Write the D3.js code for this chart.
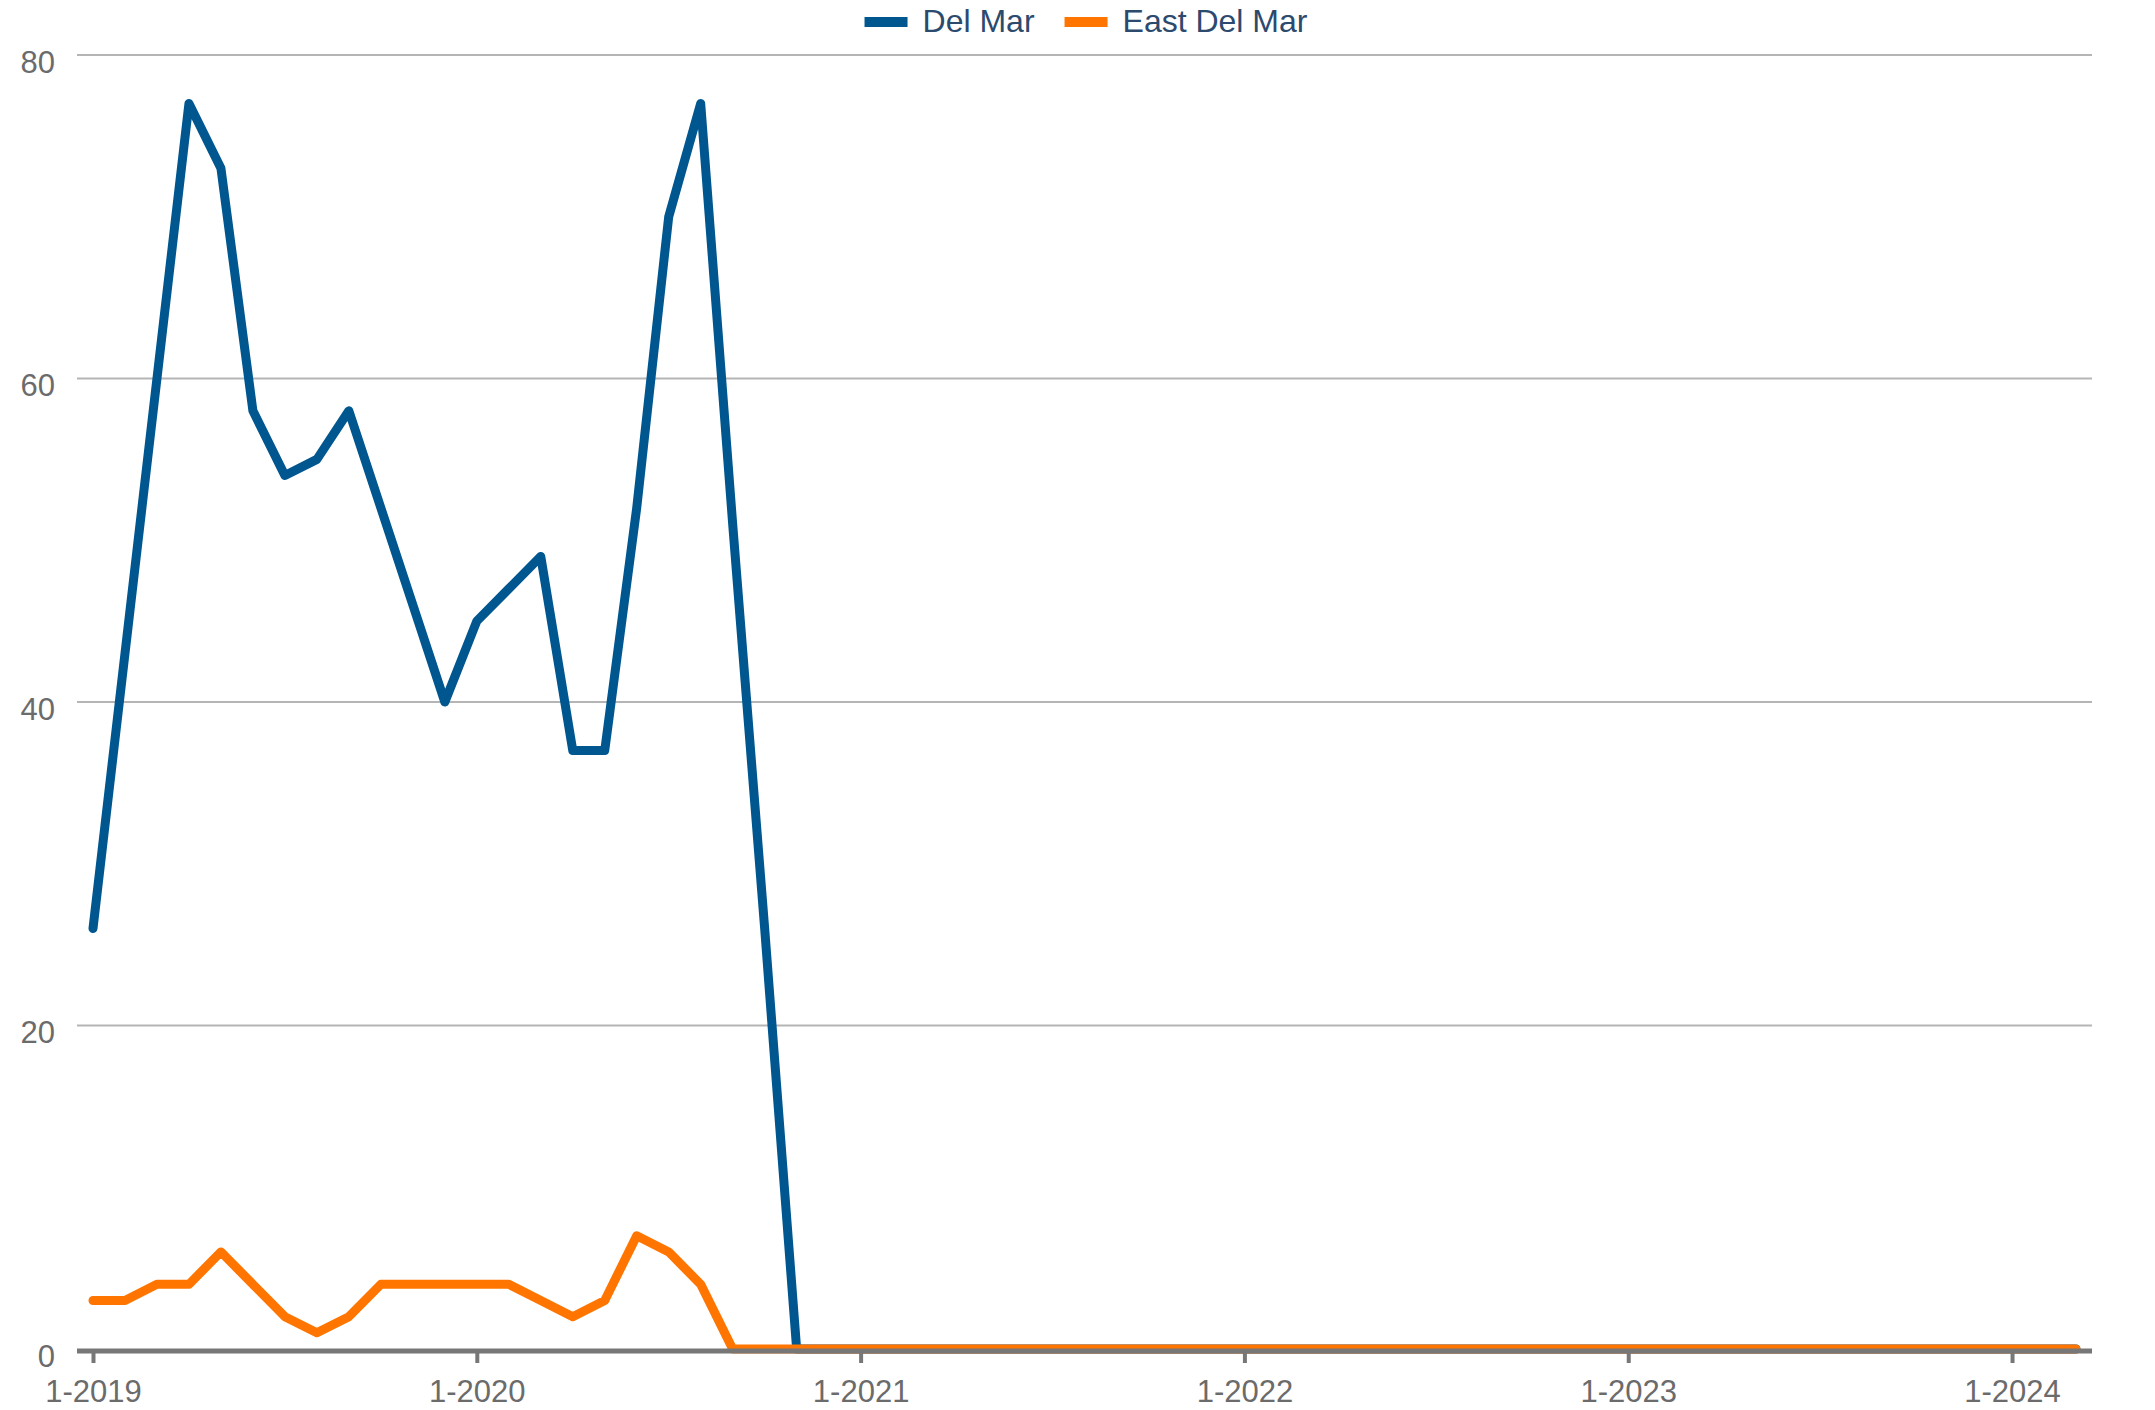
<!DOCTYPE html>
<html>
<head>
<meta charset="utf-8">
<script src="https://cdn.jsdelivr.net/npm/d3@7"></script>
<style>
  html, body { margin: 0; padding: 0; background: #fff; }
  svg { display: block; }
</style>
</head>
<body>
<svg id="chart" width="2155" height="1410"></svg>
<script>
const months = [
  "1-2019","2-2019","3-2019","4-2019","5-2019","6-2019","7-2019","8-2019","9-2019","10-2019","11-2019","12-2019",
  "1-2020","2-2020","3-2020","4-2020","5-2020","6-2020","7-2020","8-2020","9-2020","10-2020","11-2020","12-2020",
  "1-2021","2-2021","3-2021","4-2021","5-2021","6-2021","7-2021","8-2021","9-2021","10-2021","11-2021","12-2021",
  "1-2022","2-2022","3-2022","4-2022","5-2022","6-2022","7-2022","8-2022","9-2022","10-2022","11-2022","12-2022",
  "1-2023","2-2023","3-2023","4-2023","5-2023","6-2023","7-2023","8-2023","9-2023","10-2023","11-2023","12-2023",
  "1-2024","2-2024","3-2024"
];
const delMar = [
  26,43,60,77,73,58,54,55,58,52,46,40,
  45,47,49,37,37,52,70,77,51,26,0,0,
  0,0,0,0,0,0,0,0,0,0,0,0,
  0,0,0,0,0,0,0,0,0,0,0,0,
  0,0,0,0,0,0,0,0,0,0,0,0,
  0,0,0
];
const eastDelMar = [
  3,3,4,4,6,4,2,1,2,4,4,4,
  4,4,3,2,3,7,6,4,0,0,0,0,
  0,0,0,0,0,0,0,0,0,0,0,0,
  0,0,0,0,0,0,0,0,0,0,0,0,
  0,0,0,0,0,0,0,0,0,0,0,0,
  0,0,0
];
const seriesNames = ["Del Mar", "East Del Mar"];
const seriesColors = ["#00568f", "#ff7500"];
const xTickLabels = ["1-2019","1-2020","1-2021","1-2022","1-2023","1-2024"];
const yTicks = [0, 20, 40, 60, 80];

(function () {
const FONT = "'Liberation Sans', Arial, Helvetica, sans-serif";
const svg = d3.select("#chart");

const plotLeft = 77, plotRight = 2092, plotTop = 55, plotBottom = 1349;
const x = d3.scalePoint().domain(months).range([plotLeft, plotRight]).padding(0.5);
const y = d3.scaleLinear().domain([0, 80]).range([plotBottom, plotTop]);

// gridlines
svg.append("g").selectAll("line")
  .data(yTicks.filter(d => d > 0))
  .join("line")
  .attr("x1", plotLeft).attr("x2", plotRight)
  .attr("y1", d => y(d)).attr("y2", d => y(d))
  .attr("stroke", "#b5b5b5").attr("stroke-width", 2);

// y labels
svg.append("g").selectAll("text")
  .data(yTicks)
  .join("text")
  .attr("x", 55).attr("y", d => y(d) + 17.5)
  .attr("text-anchor", "end")
  .attr("font-family", FONT).attr("font-size", 31)
  .attr("fill", "#6b6b6b")
  .text(d => d);

// lines
const line = d3.line().x((d, i) => x(months[i])).y(d => y(d));
[delMar, eastDelMar].forEach((s, k) => {
  svg.append("path")
    .datum(s)
    .attr("d", line)
    .attr("fill", "none")
    .attr("stroke", seriesColors[k])
    .attr("stroke-width", 9)
    .attr("stroke-linejoin", "round")
    .attr("stroke-linecap", "round");
});

// x axis
const xAxis = d3.axisBottom(x).tickValues(xTickLabels).tickSize(12).tickSizeOuter(0).tickPadding(17);
const gx = svg.append("g").attr("transform", `translate(0,${plotBottom + 2})`).call(xAxis);
gx.select(".domain").attr("stroke", "#777").attr("stroke-width", 5)
  .attr("d", `M${plotLeft},0H${plotRight}`);
gx.selectAll(".tick line").attr("stroke", "#777").attr("stroke-width", 4);
gx.selectAll(".tick text")
  .attr("font-family", FONT).attr("font-size", 31)
  .attr("fill", "#6b6b6b");

// legend
const legend = svg.append("g");
let cursor = 0;
seriesNames.forEach((name, k) => {
  const g = legend.append("g");
  g.append("rect").attr("x", 0).attr("y", 17).attr("width", 43).attr("height", 10)
    .attr("fill", seriesColors[k]);
  const t = g.append("text").attr("x", 58).attr("y", 32)
    .attr("font-family", FONT).attr("font-size", 32)
    .attr("fill", "#2c4a6e").text(name);
  const w = 58 + t.node().getComputedTextLength();
  g.attr("transform", `translate(${cursor},0)`);
  cursor += w + 30;
});
const totalW = cursor - 30;
legend.attr("transform", `translate(${1086 - totalW / 2},0)`);
})();
</script>
</body>
</html>
